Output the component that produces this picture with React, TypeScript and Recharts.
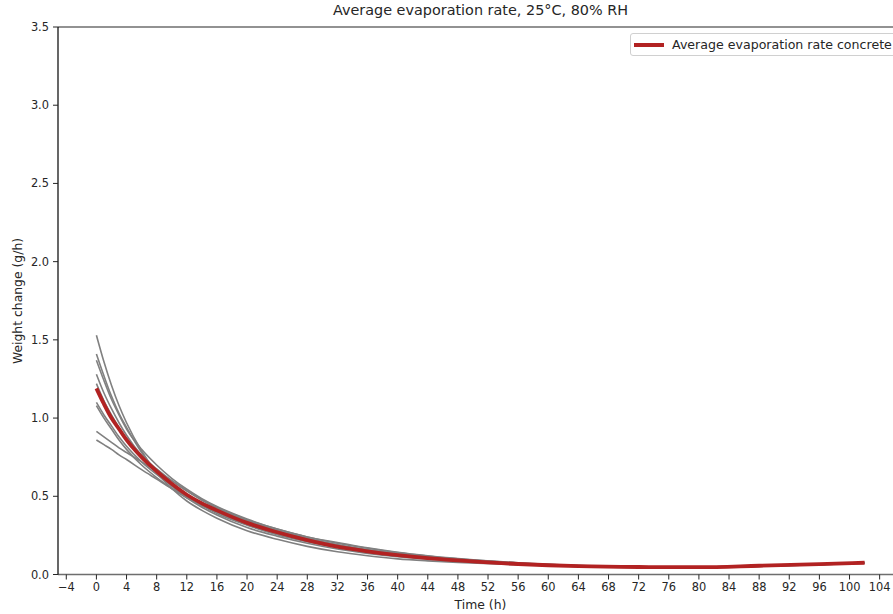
import { LineChart, Line, XAxis, YAxis, ReferenceLine } from 'recharts';

const FONT = '"DejaVu Sans", sans-serif';

// sample times (h)
const times = [0, 1, 2, 3, 4, 6, 8, 10, 12, 14, 16, 20, 24, 28, 32, 36, 40, 44, 48, 56, 64, 72, 80, 88, 96, 102];

// individual specimens (g/h)
const specimen1 = [1.53, 1.36, 1.21, 1.08, 0.97, 0.79, 0.65, 0.55, 0.47, 0.41, 0.36, 0.28, 0.225, 0.18, 0.145, 0.12, 0.10, 0.087, 0.077, 0.062, 0.052, 0.046, 0.046, 0.053, 0.063, 0.073];
const specimen2 = [1.41, 1.27, 1.14, 1.03, 0.94, 0.78, 0.66, 0.565, 0.49, 0.43, 0.38, 0.30, 0.245, 0.20, 0.163, 0.135, 0.113, 0.097, 0.084, 0.066, 0.054, 0.047, 0.047, 0.055, 0.065, 0.075];
const specimen3 = [1.37, 1.24, 1.12, 1.02, 0.93, 0.80, 0.70, 0.615, 0.545, 0.485, 0.435, 0.355, 0.29, 0.24, 0.20, 0.168, 0.14, 0.118, 0.10, 0.074, 0.058, 0.05, 0.048, 0.056, 0.066, 0.076];
const specimen4 = [1.28, 1.16, 1.06, 0.97, 0.89, 0.76, 0.66, 0.58, 0.51, 0.45, 0.40, 0.32, 0.26, 0.215, 0.178, 0.148, 0.124, 0.105, 0.09, 0.068, 0.054, 0.047, 0.046, 0.054, 0.065, 0.075];
const specimen5 = [1.22, 1.11, 1.02, 0.94, 0.87, 0.76, 0.675, 0.60, 0.535, 0.48, 0.43, 0.35, 0.29, 0.24, 0.205, 0.17, 0.142, 0.12, 0.102, 0.075, 0.058, 0.05, 0.048, 0.056, 0.066, 0.076];
const specimen6 = [1.10, 1.02, 0.95, 0.88, 0.82, 0.72, 0.64, 0.57, 0.51, 0.46, 0.415, 0.34, 0.28, 0.23, 0.19, 0.158, 0.132, 0.11, 0.094, 0.07, 0.055, 0.048, 0.047, 0.055, 0.065, 0.075];
const specimen7 = [1.08, 1.00, 0.93, 0.86, 0.80, 0.70, 0.62, 0.55, 0.49, 0.44, 0.39, 0.315, 0.255, 0.21, 0.172, 0.143, 0.12, 0.102, 0.088, 0.067, 0.053, 0.047, 0.046, 0.054, 0.064, 0.074];
const specimen8 = [0.915, 0.88, 0.845, 0.81, 0.78, 0.72, 0.66, 0.60, 0.535, 0.475, 0.425, 0.345, 0.28, 0.23, 0.19, 0.158, 0.132, 0.111, 0.094, 0.069, 0.054, 0.047, 0.046, 0.054, 0.064, 0.074];
const specimen9 = [0.86, 0.83, 0.80, 0.765, 0.735, 0.67, 0.61, 0.55, 0.495, 0.445, 0.40, 0.325, 0.265, 0.215, 0.175, 0.145, 0.121, 0.102, 0.087, 0.065, 0.052, 0.045, 0.044, 0.052, 0.062, 0.072];

// average of all specimens (g/h)
const average = [1.19, 1.09, 1.00, 0.93, 0.86, 0.75, 0.66, 0.58, 0.51, 0.455, 0.41, 0.33, 0.27, 0.22, 0.178, 0.148, 0.124, 0.105, 0.09, 0.067, 0.053, 0.048, 0.047, 0.056, 0.066, 0.075];

const xTicks = [-4, 0, 4, 8, 12, 16, 20, 24, 28, 32, 36, 40, 44, 48, 52, 56, 60, 64, 68, 72, 76, 80, 84, 88, 92, 96, 100, 104];
const yTicks = [0, 0.5, 1.0, 1.5, 2.0, 2.5, 3.0, 3.5];

const specimens = [specimen1, specimen2, specimen3, specimen4, specimen5, specimen6, specimen7, specimen8, specimen9];

const data = times.map((t, i) => {
  const row: Record<string, number> = { t, avg: average[i] };
  specimens.forEach((s, k) => { row['s' + k] = s[i]; });
  return row;
});

const tickStyle = { fontSize: 11.4, fill: '#262626', fontFamily: FONT };
const textStyle = { fontFamily: FONT, color: '#262626', whiteSpace: 'nowrap' as const };

export default function App() {
  return (
    <div style={{ position: 'absolute', left: 0, top: 0, width: 893, height: 614, overflow: 'hidden', background: '#fff' }}>
      <LineChart width={910} height={614} data={data} margin={{ top: 27, right: 7, bottom: 14.5, left: 0 }}>
        <XAxis
          dataKey="t" type="number" domain={[-5.1, 107.1]} ticks={xTicks} allowDataOverflow
          height={25} tickSize={5} tickMargin={3}
          axisLine={{ stroke: '#6e6e6e', strokeWidth: 1.5 }} tickLine={{ stroke: '#262626' }}
          tick={tickStyle} tickFormatter={(v: number) => String(v).replace('-', '\u2212')}
        />
        <YAxis
          type="number" domain={[0, 3.5]} ticks={yTicks} allowDataOverflow
          width={58} tickSize={5} tickMargin={4}
          axisLine={{ stroke: '#000', strokeWidth: 1.2 }} tickLine={{ stroke: '#262626' }}
          tick={tickStyle} tickFormatter={(v: number) => v.toFixed(1)}
        />
        <ReferenceLine y={3.5} stroke="#6e6e6e" strokeWidth={1.5} />
        {specimens.map((_, k) => (
          <Line key={k} dataKey={'s' + k} type="monotone" stroke="#808080" strokeWidth={1.6}
            dot={false} activeDot={false} isAnimationActive={false} />
        ))}
        <Line dataKey="avg" name="Average evaporation rate concrete" type="monotone" stroke="#b22222"
          strokeWidth={3.8} dot={false} activeDot={false} isAnimationActive={false} />
      </LineChart>

      {/* title and axis labels */}
      <div style={{ ...textStyle, position: 'absolute', left: 0, top: 2, width: 961, textAlign: 'center', fontSize: 14.4 }}>
        Average evaporation rate, 25°C, 80% RH
      </div>
      <div style={{ ...textStyle, position: 'absolute', left: 0, top: 597, width: 961, textAlign: 'center', fontSize: 12.4 }}>
        Time (h)
      </div>
      <div style={{
        ...textStyle, position: 'absolute', left: 17, top: 301, fontSize: 12.4,
        transform: 'translate(-50%, -50%) rotate(-90deg)',
      }}>
        Weight change (g/h)
      </div>

      {/* legend */}
      <div style={{
        ...textStyle, position: 'absolute', left: 630, top: 33, height: 23, boxSizing: 'border-box',
        border: '1px solid #d0d0d0', borderRadius: 3, background: '#fff',
        padding: '0 10px 0 3px', display: 'flex', alignItems: 'center', fontSize: 12.6,
      }}>
        <span style={{ display: 'inline-block', width: 30, height: 4, background: '#b22222', marginRight: 8 }} />
        Average evaporation rate concrete
      </div>
    </div>
  );
}
